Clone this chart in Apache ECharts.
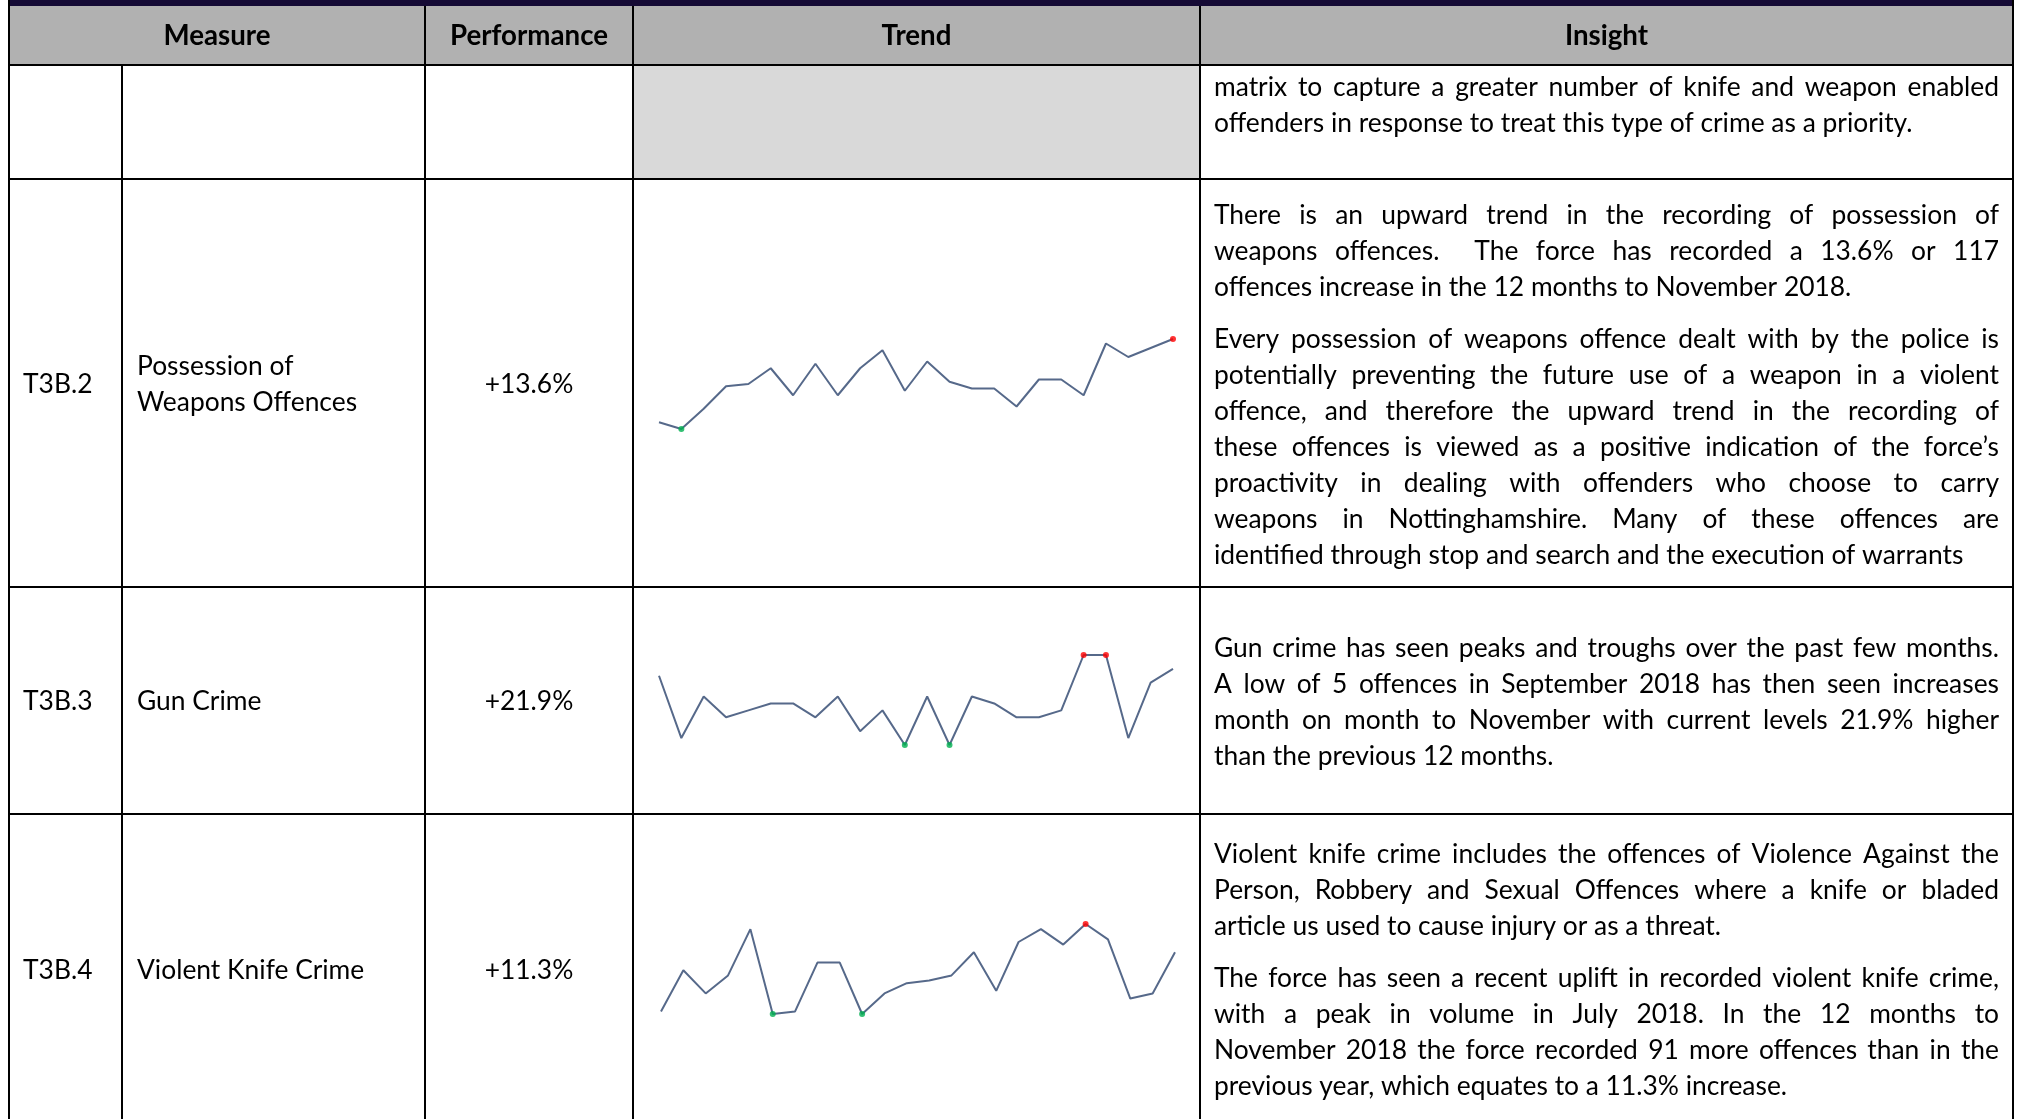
<!DOCTYPE html>
<html><head><meta charset="utf-8">
<script src="https://cdn.jsdelivr.net/npm/echarts@6/dist/echarts.min.js"></script>
<style>html,body{margin:0;padding:0;background:#fff}#c{width:2022px;height:1119px}</style>
</head><body><div id="c"></div>
<script>
// ---------------- DATA ----------------
const months = ['Dec-16','Jan-17','Feb-17','Mar-17','Apr-17','May-17','Jun-17','Jul-17','Aug-17','Sep-17','Oct-17','Nov-17',
                'Dec-17','Jan-18','Feb-18','Mar-18','Apr-18','May-18','Jun-18','Jul-18','Aug-18','Sep-18','Oct-18','Nov-18'];
const possessionWeapons = [63, 60, 69, 79, 80, 87, 75, 89, 75, 87, 95, 77, 90, 81, 78, 78, 70, 82, 82, 75, 98, 92, 96, 100];
const gunCrime          = [14, 5, 11, 8, 9, 10, 10, 8, 11, 6, 9, 4, 11, 4, 11, 10, 8, 8, 9, 17, 17, 5, 13, 15];
const violentKnife      = [56, 72, 63, 70, 88, 55, 56, 75, 75, 55, 63, 67, 68, 70, 79, 64, 83, 88, 82, 90, 84, 61, 63, 79];

const headers = ['Measure', 'Performance', 'Trend', 'Insight'];
const measureCodes = ['T3B.2', 'T3B.3', 'T3B.4'];
const measureNames = [['Possession of', 'Weapons Offences'], ['Gun Crime'], ['Violent Knife Crime']];
const performance = ['+13.6%', '+21.9%', '+11.3%'];

const insightRow1 = [[
  'matrix to capture a greater number of knife and weapon enabled',
  'offenders in response to treat this type of crime as a priority.'
]];
const insightRow2 = [[
  'There is an upward trend in the recording of possession of',
  'weapons offences.  The force has recorded a 13.6% or 117',
  'offences increase in the 12 months to November 2018.'
],[
  'Every possession of weapons offence dealt with by the police is',
  'potentially preventing the future use of a weapon in a violent',
  'offence, and therefore the upward trend in the recording of',
  'these offences is viewed as a positive indication of the force\u2019s',
  'proactivity in dealing with offenders who choose to carry',
  'weapons in Nottinghamshire. Many of these offences are',
  'identified through stop and search and the execution of warrants'
]];
const insightRow3 = [[
  'Gun crime has seen peaks and troughs over the past few months.',
  'A low of 5 offences in September 2018 has then seen increases',
  'month on month to November with current levels 21.9% higher',
  'than the previous 12 months.'
]];
const insightRow4 = [[
  'Violent knife crime includes the offences of Violence Against the',
  'Person, Robbery and Sexual Offences where a knife or bladed',
  'article us used to cause injury or as a threat.'
],[
  'The force has seen a recent uplift in recorded violent knife crime,',
  'with a peak in volume in July 2018. In the 12 months to',
  'November 2018 the force recorded 91 more offences than in the',
  'previous year, which equates to a 11.3% increase.'
]];

// ---------------- LAYOUT ----------------
const FONT = 'Lato';
const colX = [9, 122, 425, 633, 1200, 2013];
const TX0 = 1214, TX1 = 1999;      // insight text box
const LINE = 36, PARA = 16;

const mctx = document.createElement('canvas').getContext('2d');
function measure(t, size, weight) { mctx.font = (weight || 'normal') + ' ' + size + 'px ' + FONT; return mctx.measureText(t).width; }
const fitSamples = [
  ['offenders in response to treat this type of crime as a priority.', 725],
  ['offences increase in the 12 months to November 2018.', 583],
  ['identified through stop and search and the execution of warrants', 784],
  ['than the previous 12 months.', 351],
  ['article us used to cause injury or as a threat.', 499],
  ['previous year, which equates to a 11.3% increase.', 562]
];
let r = 0; fitSamples.forEach(s => { r += s[1] / measure(s[0], 100); });
const FS = Math.round(100 * r / fitSamples.length * 10) / 10;
const HFS = Math.round(FS * 1.05 * 10) / 10;

const els = [];
function txt(t, x, y, opts) {
  opts = opts || {};
  els.push({ type: 'text', x: x, y: y, z: 10, silent: true,
    style: { text: t, fontFamily: FONT, fontSize: opts.bold ? HFS : FS, fontWeight: opts.bold ? 'bold' : 'normal',
             fill: '#000', align: opts.align || 'left', verticalAlign: 'middle' } });
}
function para(lines, y) {
  lines.forEach((line, li) => {
    const last = li === lines.length - 1;
    if (last) { txt(line, TX0, y); }
    else {
      const words = line.split(' ');
      const widths = words.map(w => measure(w, FS));
      const total = widths.reduce((a, b) => a + b, 0);
      const gap = (TX1 - TX0 - total) / (words.length - 1);
      let x = TX0;
      words.forEach((w, i) => { if (w) txt(w, x, y); x += widths[i] + gap; });
    }
    y += LINE;
  });
  return y + PARA - LINE;
}
function block(paras, y0) { let y = y0; paras.forEach(p => { y = para(p, y) + LINE; }); }

// backgrounds
els.push({ type: 'rect', z: 1, silent: true, shape: { x: 8, y: 0, width: 2006, height: 6 }, style: { fill: '#150a35' } });
els.push({ type: 'rect', z: 1, silent: true, shape: { x: 9, y: 6, width: 2004, height: 59 }, style: { fill: '#b1b1b1' } });
els.push({ type: 'rect', z: 1, silent: true, shape: { x: 633, y: 65, width: 567, height: 114 }, style: { fill: '#d9d9d9' } });

// borders
function ln(x1, y1, x2, y2) { els.push({ type: 'line', z: 5, silent: true, shape: { x1, y1, x2, y2 }, style: { stroke: '#000', lineWidth: 2 } }); }
[65, 179, 587, 814].forEach(y => ln(8, y, 2014, y));
ln(colX[0], 0, colX[0], 1119); ln(colX[5], 0, colX[5], 1119);
ln(colX[1], 65, colX[1], 1119);
[colX[2], colX[3], colX[4]].forEach(x => ln(x, 6, x, 1119));

// header text
txt(headers[0], (colX[0] + colX[2]) / 2, 36, { bold: true, align: 'center' });
txt(headers[1], (colX[2] + colX[3]) / 2, 36, { bold: true, align: 'center' });
txt(headers[2], (colX[3] + colX[4]) / 2, 36, { bold: true, align: 'center' });
txt(headers[3], (colX[4] + colX[5]) / 2, 36, { bold: true, align: 'center' });

// measure rows
const rowCenters = [384, 701, 970];
rowCenters.forEach((cy, i) => {
  txt(measureCodes[i], 23, cy);
  const names = measureNames[i];
  names.forEach((n, k) => txt(n, 137, cy + (k - (names.length - 1) / 2) * LINE));
  txt(performance[i], (colX[2] + colX[3]) / 2, cy, { align: 'center' });
});

// insights
block(insightRow1, 87);
block(insightRow2, 215);
block(insightRow3, 648);
block(insightRow4, 854);

// ---------------- SPARKLINES ----------------
const sparks = [
  { data: possessionWeapons, left: 659, top: 339 },
  { data: gunCrime,          left: 659, top: 655 },
  { data: violentKnife,      left: 661, top: 924 }
];
const grids = [], xAxes = [], yAxes = [], series = [];
sparks.forEach((s, i) => {
  grids.push({ left: s.left, top: s.top, width: 514, height: 90, containLabel: false });
  xAxes.push({ type: 'category', gridIndex: i, data: months, boundaryGap: false, show: false });
  yAxes.push({ type: 'value', gridIndex: i, min: 'dataMin', max: 'dataMax', scale: true, show: false, splitLine: { show: false } });
  series.push({ type: 'line', xAxisIndex: i, yAxisIndex: i, data: s.data, symbol: 'none', z: 20,
    lineStyle: { color: '#56698a', width: 2 }, silent: true });
  const mx = Math.max(...s.data), mn = Math.min(...s.data);
  const pts = [];
  s.data.forEach((v, k) => {
    if (v === mx) pts.push({ value: [k, v], itemStyle: { color: '#ff0000' } });
    else if (v === mn) pts.push({ value: [k, v], itemStyle: { color: '#00b050' } });
  });
  series.push({ type: 'scatter', xAxisIndex: i, yAxisIndex: i, data: pts, symbol: 'circle', symbolSize: 6, z: 21, silent: true });
});

const chart = echarts.init(document.getElementById('c'), null, { renderer: 'canvas' });
chart.setOption({
  animation: false,
  backgroundColor: '#ffffff',
  grid: grids, xAxis: xAxes, yAxis: yAxes, series: series,
  graphic: { elements: els }
});
</script></body></html>
